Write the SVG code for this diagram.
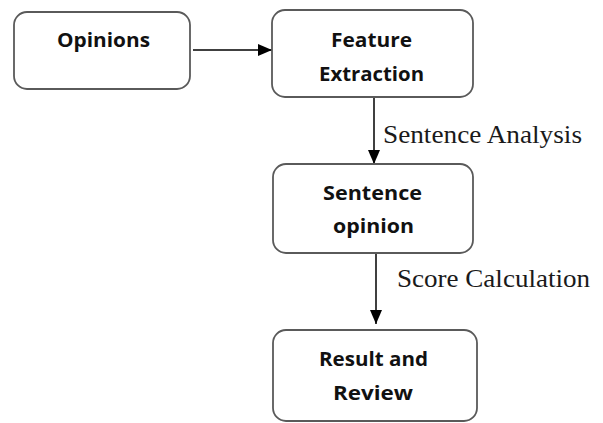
<svg xmlns="http://www.w3.org/2000/svg" width="603" height="423" viewBox="0 0 603 423">
<style>
.box{fill:#fff;stroke:#5a5a5a;stroke-width:1.8}
.lbl{font-family:"Open Sans","Liberation Sans",sans-serif;font-weight:bold;font-size:20px;fill:#111;text-anchor:middle}
.edge{fill:none;stroke:#000;stroke-width:1.5}
.elbl{font-family:"Liberation Serif","Times New Roman",serif;font-size:25px;fill:#1a1a1a}
</style>
<defs>
<marker id="arr" viewBox="0 0 14 12" refX="14" refY="6" markerWidth="14" markerHeight="12" markerUnits="userSpaceOnUse" orient="auto">
<path d="M0,0 L14,6 L0,12 Z" fill="#000"/>
</marker>
</defs>
<rect width="603" height="423" fill="#fff"/>
<g id="connectors">
<line class="edge" x1="193" y1="50" x2="272" y2="50" marker-end="url(#arr)"/>
<line class="edge" x1="374" y1="97" x2="374" y2="164" marker-end="url(#arr)"/>
<line class="edge" x1="376" y1="253" x2="376" y2="324" marker-end="url(#arr)"/>
<text class="elbl" x="383" y="143" textLength="199" lengthAdjust="spacingAndGlyphs">Sentence Analysis</text>
<text class="elbl" x="397" y="287" textLength="193" lengthAdjust="spacingAndGlyphs">Score Calculation</text>
</g>
<g id="opinions">
<rect class="box" x="14" y="12" width="176" height="77" rx="13"/>
<text class="lbl" x="103.5" y="47" textLength="93" lengthAdjust="spacingAndGlyphs">Opinions</text>
</g>
<g id="feature-extraction">
<rect class="box" x="272" y="10" width="201" height="87" rx="13"/>
<text class="lbl" x="371.5" y="47" textLength="81" lengthAdjust="spacingAndGlyphs">Feature</text>
<text class="lbl" x="371.5" y="81" textLength="105" lengthAdjust="spacingAndGlyphs">Extraction</text>
</g>
<g id="sentence-opinion">
<rect class="box" x="273" y="164" width="200" height="89" rx="13"/>
<text class="lbl" x="372.5" y="200" textLength="99" lengthAdjust="spacingAndGlyphs">Sentence</text>
<text class="lbl" x="373.5" y="233" textLength="81" lengthAdjust="spacingAndGlyphs">opinion</text>
</g>
<g id="result-review">
<rect class="box" x="273" y="330" width="204" height="91" rx="13"/>
<text class="lbl" x="373.5" y="366" textLength="109" lengthAdjust="spacingAndGlyphs">Result and</text>
<text class="lbl" x="373" y="400" textLength="80" lengthAdjust="spacingAndGlyphs">Review</text>
</g>
</svg>
